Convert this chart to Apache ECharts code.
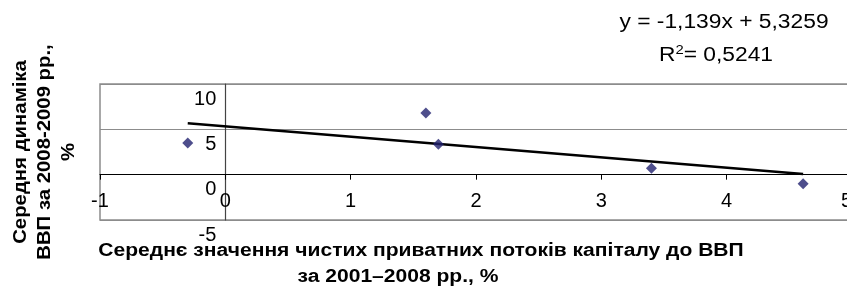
<!DOCTYPE html>
<html>
<head>
<meta charset="utf-8">
<script src="https://cdn.jsdelivr.net/npm/echarts@6/dist/echarts.min.js"></script>
<style>
  html, body { margin: 0; padding: 0; background: #fff; }
  #chart { width: 847px; height: 289px; }
</style>
</head>
<body>
<div id="chart"></div>
<script>
// дані з малюнка
var xValues = [-0.3, 1.6, 1.7, 3.4, 4.61];
var yValues = [3.5, 6.8, 3.35, 0.7, -1.0];
var xTicks = [-1, 0, 1, 2, 3, 4, 5];
var yTicks = [-5, 0, 5, 10];
// лінія тренду (з підпису на графіку)
var slope = -1.139;
var intercept = 5.3259;
var rSquared = 0.5241;

var FONT = 'Arial, "Liberation Sans", sans-serif';

var points = xValues.map(function (x, i) { return [x, yValues[i]]; });
var xMin = Math.min.apply(null, xValues);
var xMax = Math.max.apply(null, xValues);
var trend = [[xMin, intercept + slope * xMin], [xMax, intercept + slope * xMax]];

function comma(v) { return String(v).replace('.', ','); }

var baseGraphic = [
  {
    type: 'text', x: 45, y: 152, rotation: Math.PI / 2, scaleX: 1.13,
    style: {
      text: 'Середня динаміка\nВВП за 2008-2009 рр.,\n%',
      font: 'bold 18px ' + FONT, fill: '#000',
      align: 'center', verticalAlign: 'middle', lineHeight: 24
    }
  },
  {
    type: 'text', x: 421, y: 251, scaleX: 1.17,
    style: {
      text: 'Середнє значення чистих приватних потоків капіталу до ВВП',
      font: 'bold 18px ' + FONT, fill: '#000', align: 'center', verticalAlign: 'middle'
    }
  },
  {
    type: 'text', x: 398, y: 277, scaleX: 1.17,
    style: {
      text: 'за 2001–2008 рр., %',
      font: 'bold 18px ' + FONT, fill: '#000', align: 'center', verticalAlign: 'middle'
    }
  },
  {
    type: 'text', x: 724, y: 22, scaleX: 1.14,
    style: {
      text: 'y = ' + comma(slope) + 'x + ' + comma(intercept),
      font: '20px ' + FONT, fill: '#000', align: 'center', verticalAlign: 'middle'
    }
  },
  {
    type: 'text', x: 716, y: 55, scaleX: 1.14,
    style: {
      text: '{r|R}{s|2}{r|= ' + comma(rSquared) + '}',
      fill: '#000', align: 'center', verticalAlign: 'middle',
      rich: {
        r: { fontSize: 20, fontFamily: FONT, color: '#000' },
        s: { fontSize: 13, fontFamily: FONT, color: '#000', verticalAlign: 'top', padding: [0, 0, 10, 0] }
      }
    }
  }
];

var option = {
  animation: false,
  backgroundColor: '#fff',
  grid: {
    left: 100, top: 84, right: -5, bottom: 69,
    outerBoundsMode: 'none',
    show: true, borderColor: '#8c8c8c', borderWidth: 1.5
  },
  xAxis: {
    type: 'value',
    min: xTicks[0], max: xTicks[xTicks.length - 1], interval: 1,
    axisLine: { onZero: true, lineStyle: { color: '#000', width: 1.2 } },
    axisTick: { show: true, length: 5, lineStyle: { color: '#000' } },
    splitLine: { show: false },
    // підписи піднято до нульової лінії
    axisLabel: {
      color: '#000', fontSize: 20, fontFamily: FONT, margin: -29,
      showMinLabel: true, showMaxLabel: true, alignMaxLabel: 'right'
    }
  },
  yAxis: {
    type: 'value',
    min: yTicks[0], max: yTicks[yTicks.length - 1], interval: 5,
    axisLine: { onZero: true, lineStyle: { color: '#444', width: 1.2 } },
    axisTick: { show: false },
    splitLine: { show: true, lineStyle: { color: '#8c8c8c', width: 1.2 } },
    axisLabel: { show: false }
  },
  graphic: baseGraphic,
  series: [
    {
      type: 'line',
      data: trend,
      symbol: 'none',
      lineStyle: { color: '#000', width: 2.6 },
      z: 2
    },
    {
      type: 'scatter',
      data: points,
      symbol: 'diamond',
      symbolSize: 11,
      itemStyle: { color: '#22226f' },
      z: 3
    }
  ]
};

var myChart = echarts.init(document.getElementById('chart'));
myChart.setOption(option);

// підписи осі Y біля лінії x = 0 (як в Excel), позиції беремо зі шкали
var yLabels = yTicks.map(function (v) {
  var p = myChart.convertToPixel({ gridIndex: 0 }, [0, v]);
  return {
    type: 'text', x: p[0] - 9, y: p[1] + 5,
    style: {
      text: String(v), font: '20px ' + FONT, fill: '#000',
      align: 'right', verticalAlign: 'top'
    }
  };
});
myChart.setOption({ graphic: baseGraphic.concat(yLabels) });
</script>
</body>
</html>
